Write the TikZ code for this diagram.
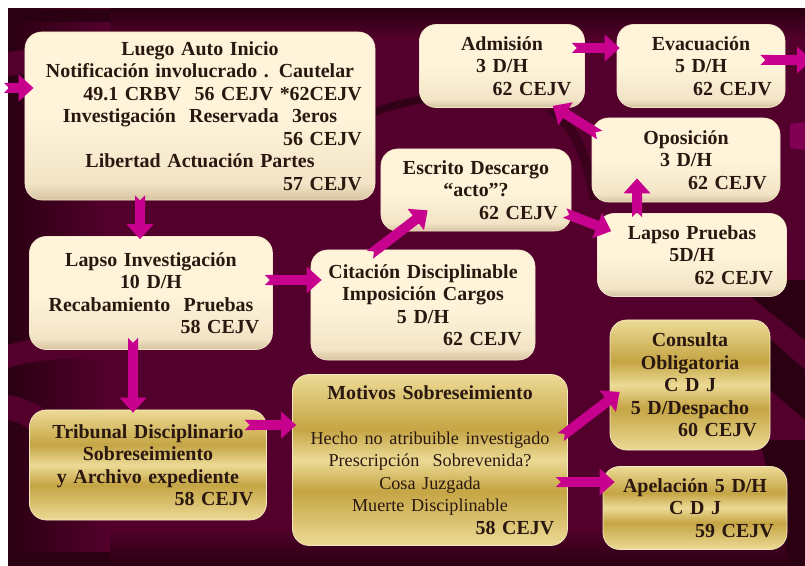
\documentclass[tikz,border=0pt]{standalone}
\usepackage{fontspec}
\setmainfont{Liberation Serif}
\usetikzlibrary{arrows.meta}

\definecolor{bgdark}{HTML}{2A0012}
\definecolor{band}{HTML}{54002C}
\definecolor{flowc}{HTML}{C8008E}
\definecolor{inkc}{HTML}{2A1810}
\definecolor{creamhi}{HTML}{FFF4DA}
\definecolor{creammd}{HTML}{F2E4C6}
\definecolor{creamlo}{HTML}{D6C3A0}
\definecolor{goldhi}{HTML}{ECDA96}
\definecolor{goldlo}{HTML}{C5A544}

\pgfdeclareverticalshading{creamshade}{100bp}{color(0bp)=(creamlo); color(25bp)=(creamlo);
  color(30bp)=(creammd); color(50bp)=(creamhi); color(100bp)=(creamhi)}
\pgfdeclareverticalshading{goldshade}{100bp}{color(0bp)=(goldhi); color(25bp)=(goldhi);
  color(41bp)=(goldlo); color(50bp)=(goldhi); color(59bp)=(goldlo); color(75bp)=(goldhi);
  color(100bp)=(goldhi)}

\newcommand{\rgt}[1]{\hspace*{\fill}#1}
\newcommand{\reg}[1]{{\mdseries\fontsize{15.5}{19.2}\selectfont #1}}

\tikzset{
  cell/.style={rounded corners=0.5cm, align=center, inner xsep=0.4cm, inner ysep=0pt,
    text=inkc, font=\fontsize{17}{19.2}\selectfont\bfseries, shade},
  creambox/.style={cell, shading=creamshade, draw=creamhi!70!creamlo, line width=0.6pt},
  goldbox/.style={cell, shading=goldshade, draw=goldhi!60!white, line width=0.6pt},
  flow/.style={draw=flowc, line width=0.3cm,
    {Triangle Cap[reversed]}-{Triangle[length=0.45cm,width=0.78cm]}}
}

\begin{document}
\begin{tikzpicture}[x=0.03cm,y=-0.03cm]
\clip (0,0) rectangle (805,566);
\fill[white] (0,0) rectangle (805,566);

% background
\fill[band] (8,9) rectangle (805,566);
\shade[left color=bgdark, right color=band] (8,9) rectangle (110,566);
\shade[top color=bgdark, bottom color=band] (110,9) rectangle (805,40);
\shade[top color=band, bottom color=bgdark] (110,525) rectangle (805,566);
\fill[bgdark] (8,9) rectangle (110,22);
\fill[bgdark] (8,552) rectangle (110,566);
\fill[bgdark, opacity=0.8] (350,118) .. controls (390,100) and (430,90) .. (480,92)
  -- (480,100) .. controls (430,98) and (390,108) .. (350,126) -- cycle;
\fill[bgdark, opacity=0.6] (560,110) .. controls (580,130) and (590,150) .. (600,200)
  -- (590,200) .. controls (580,150) and (570,130) .. (545,110) -- cycle;
\fill[band] (8,52) .. controls (60,45) and (100,42) .. (140,44) -- (140,66)
  .. controls (100,66) and (60,70) .. (8,76) -- cycle;
\fill[band] (8,345) .. controls (40,335) and (80,335) .. (120,345) -- (120,362)
  .. controls (80,356) and (40,358) .. (8,368) -- cycle;
\fill[band] (8,395) .. controls (30,398) and (50,410) .. (70,430) -- (40,440)
  .. controls (30,428) and (20,422) .. (8,420) -- cycle;
\fill[bgdark] (730,280) -- (805,280) -- (805,340) -- cycle;
\fill[bgdark] (700,330) -- (760,330) -- (805,370) -- (805,420) -- cycle;
\fill[bgdark] (760,440) -- (805,440) -- (805,566) -- (790,566) -- cycle;
\fill[band!60!flowc] (790,124) -- (805,122) -- (805,150) -- (790,148) -- cycle;

% boxes
\node[creambox, text width=9.7cm, minimum height=5.04cm] (lugo) at (200,116) {
  Luego Auto Inicio\\
  Notificación involucrado . Cautelar\\
  \rgt{49.1 CRBV\ \ 56 CEJV *62CEJV}\\
  Investigación\ \ Reservada\ \ 3eros\\
  \rgt{56 CEJV}\\
  Libertad Actuación Partes\\
  \rgt{57 CEJV}};
\node[creambox, text width=4.15cm, minimum height=2.49cm] (admis) at (502,66) {
  Admisión\\ 3 D/H\\ \rgt{62 CEJV}};
\node[creambox, text width=4.24cm, minimum height=2.49cm] (evac) at (701,66) {
  Evacuación\\ 5 D/H\\ \rgt{62 CEJV}};
\node[creambox, text width=4.84cm, minimum height=2.52cm] (opos) at (686,160) {
  Oposición\\ 3 D/H\\ \rgt{62 CEJV}};
\node[creambox, text width=4.9cm, minimum height=2.46cm] (escr) at (476,190) {
  Escrito Descargo\\ “acto”?\\ \rgt{62 CEJV}};
\node[creambox, text width=4.87cm, minimum height=2.49cm] (lpru) at (692,255) {
  Lapso Pruebas\\ 5D/H\\ \rgt{62 CEJV}};
\node[creambox, text width=6.49cm, minimum height=3.39cm] (linv) at (151,293) {
  Lapso Investigación\\ 10 D/H\\ Recabamiento\ \ Pruebas\\ \rgt{58 CEJV}};
\node[creambox, text width=5.92cm, minimum height=3.3cm] (cita) at (423,305) {
  Citación Disciplinable\\ Imposición Cargos\\ 5 D/H\\ \rgt{62 CEJV}};
\node[goldbox, text width=6.31cm, minimum height=3.3cm] (trib) at (148,465) {
  Tribunal Disciplinario\\ Sobreseimiento\\ y Archivo expediente\\ \rgt{58 CEJV}};
\node[goldbox, text width=7.45cm, minimum height=5.13cm] (moti) at (430,460) {
  Motivos Sobreseimiento\\[19.2pt]
  \reg{Hecho no atribuible investigado}\\
  \reg{Prescripción\ \ Sobrevenida?}\\
  \reg{Cosa Juzgada}\\
  \reg{Muerte Disciplinable}\\
  \rgt{58 CEJV}};
\node[goldbox, text width=4.0cm, minimum height=3.9cm] (cons) at (690,385) {
  Consulta\\ Obligatoria\\ C D J\\ 5 D/Despacho\\ \rgt{60 CEJV}};
\node[goldbox, text width=4.72cm, minimum height=2.49cm] (apel) at (695,508) {
  Apelación 5 D/H\\ C D J\\ \rgt{59 CEJV}};

% connectors
\coordinate (inL) at (4,88);
\coordinate (outR) at (812,60);
\draw[flow] (inL) -- ([xshift=0.27cm]lugo.west |- inL);
\draw[flow] ([xshift=-0.33cm,yshift=0.15cm]linv.north |- lugo.south) -- ([xshift=-0.33cm,yshift=-0.09cm]linv.north);
\draw[flow] ([xshift=-0.39cm,yshift=0.54cm]admis.east) -- ([xshift=0.09cm,yshift=0.54cm]evac.west);
\draw[flow] ([xshift=-0.75cm,yshift=0.18cm]evac.east) -- (outR);
\draw[flow] ([shift={(0.24cm,0.75cm)}]opos.west) -- ([shift={(-0.96cm,0.06cm)}]admis.south east);
\draw[flow] ([xshift=-1.65cm,yshift=-0.12cm]lpru.north) -- ([xshift=-1.47cm,yshift=0.72cm]opos.south);
\draw[flow] ([shift={(-0.2cm,0.55cm)}]escr.south east) -- ([shift={(0.42cm,-0.54cm)}]lpru.north west);
\draw[flow] ([shift={(-1.59cm,-0.15cm)}]cita.north) -- ([shift={(1.41cm,0.63cm)}]escr.south west);
\draw[flow] ([shift={(-0.24cm,0.39cm)}]linv.east) -- ([shift={(0.33cm,0.39cm)}]linv.east -| cita.west);
\draw[flow] ([xshift=-0.54cm,yshift=0.36cm]linv.south) -- ([xshift=-0.54cm,yshift=-0.09cm]linv.south |- trib.north);
\draw[flow] ([shift={(-0.66cm,1.2cm)}]trib.east) -- ([shift={(0.12cm,1.2cm)}]trib.east -| moti.west);
\draw[flow] ([shift={(-0.21cm,0.69cm)}]moti.east) -- ([shift={(0.3cm,-0.21cm)}]cons.west);
\draw[flow] ([shift={(-0.36cm,-0.66cm)}]moti.east) -- ([shift={(0.36cm,-0.66cm)}]moti.east -| apel.west);
\end{tikzpicture}
\end{document}
